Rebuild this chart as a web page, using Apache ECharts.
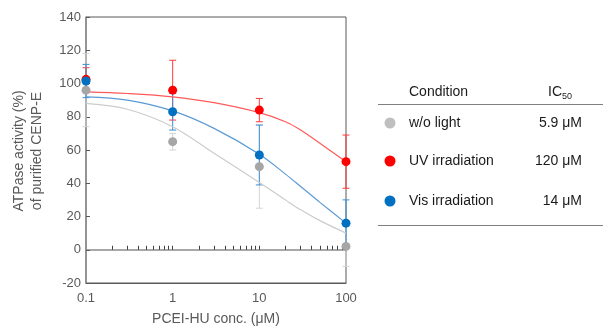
<!DOCTYPE html>
<html><head><meta charset="utf-8">
<script src="https://cdn.jsdelivr.net/npm/echarts@6/dist/echarts.min.js"></script>
<style>html,body{margin:0;padding:0;background:#fff}#c{width:604px;height:331px}</style>
</head><body><div id="c"></div><script>
// ---- data ----
const concentrations = [0.1, 1, 10, 100];
const woLightMean = [96, 65, 50, 2];
const woLightErr  = [22, 5, 25, 12];
const uvMean      = [102.5, 96, 84, 53];
const uvErr       = [7, 18, 7, 16];
const visMean     = [101.5, 83, 57, 16];
const visErr      = [10, 11, 18, 14];

const curveConc    = [0.1, 0.3, 1, 3, 10, 20, 30, 50, 100];
const woLightCurve = [88, 84.5, 74, 58, 40.5, 30, 24, 17.5, 10];
const uvCurve      = [95, 94, 92, 88.5, 82.5, 77, 72, 64, 53];
const visCurve     = [92, 90, 83.5, 73, 57.5, 45.5, 38, 28.5, 16];

const minorTickValues = [0.2,0.3,0.4,0.5,0.6,0.7,0.8,0.9,1,2,3,4,5,6,7,8,9,10,20,30,40,50,60,70,80,90];
const conditionNames = ['w/o light', 'UV irradiation', 'Vis irradiation'];
const ic50Labels = ['5.9 μM', '120 μM', '14 μM'];

// ---- style ----
const FONT = '"Liberation Sans", Arial, sans-serif';
const TXT = '#595959';
const pointColors = ['#a6a6a6', '#ff0000', '#0070c0'];
const legendDotColors = ['#bfbfbf', '#ff0000', '#0070c0'];
const curveColors = ['#cccccc', '#ff5a5a', '#5b9bd5'];
const errColors = ['#d4d4d4', '#ff3b3b', '#3d8fd6'];

function errorSeries(means, errs, color) {
  return {
    type: 'custom', xAxisIndex: 0, yAxisIndex: 0, z: 2, silent: true,
    data: concentrations.map((c, i) => [c, means[i] - errs[i], means[i] + errs[i]]),
    encode: { x: 0, y: [1, 2] },
    renderItem(params, api) {
      const lo = api.coord([api.value(0), api.value(1)]);
      const hi = api.coord([api.value(0), api.value(2)]);
      const hw = 3.5;
      const style = { stroke: color, lineWidth: 1, fill: null };
      return { type: 'group', children: [
        { type: 'line', shape: { x1: hi[0], y1: hi[1], x2: lo[0], y2: lo[1] }, style },
        { type: 'line', shape: { x1: hi[0] - hw, y1: hi[1], x2: hi[0] + hw, y2: hi[1] }, style },
        { type: 'line', shape: { x1: lo[0] - hw, y1: lo[1], x2: lo[0] + hw, y2: lo[1] }, style }
      ]};
    }
  };
}
function curveSeries(vals, color) {
  return { type: 'line', xAxisIndex: 0, yAxisIndex: 0, z: 3, silent: true,
    data: curveConc.map((c, i) => [c, vals[i]]), smooth: 0.35,
    showSymbol: false, symbol: 'none',
    lineStyle: { color, width: 1.2 } };
}
function pointSeries(vals, color) {
  return { type: 'scatter', xAxisIndex: 0, yAxisIndex: 0, z: 4, silent: true,
    data: concentrations.map((c, i) => [c, vals[i]]), symbolSize: 9,
    itemStyle: { color, opacity: 1 } };
}

const rowsY = [123, 161, 201];
const graphics = [
  { type: 'text', x: 28, y: 151, rotation: Math.PI / 2,
    style: { text: 'ATPase activity (%)\nof purified CENP-E', font: '14px ' + FONT, fill: TXT,
      align: 'center', verticalAlign: 'middle', lineHeight: 18 } },
  { type: 'line', shape: { x1: 378, y1: 104.5, x2: 603, y2: 104.5 }, style: { stroke: '#7f7f7f', lineWidth: 1 } },
  { type: 'line', shape: { x1: 378, y1: 225.5, x2: 603, y2: 225.5 }, style: { stroke: '#7f7f7f', lineWidth: 1 } },
  { type: 'text', x: 409, y: 92, style: { text: 'Condition', font: '14px ' + FONT, fill: '#1a1a1a', align: 'left', verticalAlign: 'middle' } },
  { type: 'text', x: 562, y: 92, style: { text: 'IC', font: '14px ' + FONT, fill: '#1a1a1a', align: 'right', verticalAlign: 'middle' } },
  { type: 'text', x: 562, y: 97, style: { text: '50', font: '9px ' + FONT, fill: '#1a1a1a', align: 'left', verticalAlign: 'middle' } }
];
conditionNames.forEach((n, i) => {
  graphics.push({ type: 'circle', shape: { cx: 390, cy: rowsY[i], r: 5.5 }, style: { fill: legendDotColors[i] } });
  graphics.push({ type: 'text', x: 409, y: rowsY[i], style: { text: n, font: '14px ' + FONT, fill: '#1a1a1a', align: 'left', verticalAlign: 'middle' } });
  graphics.push({ type: 'text', x: 582, y: rowsY[i], style: { text: ic50Labels[i], font: '14px ' + FONT, fill: '#1a1a1a', align: 'right', verticalAlign: 'middle' } });
});

const chart = echarts.init(document.getElementById('c'), null, { renderer: 'canvas' });
chart.setOption({
  animation: false,
  backgroundColor: '#fff',
  textStyle: { fontFamily: FONT },
  grid: { left: 86, top: 17, width: 260, height: 268, show: true, borderColor: '#595959', borderWidth: 1, backgroundColor: 'transparent' },
  xAxis: [
    { type: 'log', logBase: 10, min: 0.1, max: 100, position: 'bottom',
      axisLine: { show: true, onZero: false, lineStyle: { color: '#595959', width: 1 } },
      axisTick: { show: false }, splitLine: { show: false }, minorTick: { show: false },
      axisLabel: { color: TXT, fontSize: 13, margin: 9, fontFamily: FONT },
      name: 'PCEI-HU conc. (μM)', nameLocation: 'middle', nameGap: 29,
      nameTextStyle: { color: TXT, fontSize: 14, fontFamily: FONT } },
    { type: 'log', logBase: 10, min: 0.1, max: 100, position: 'bottom',
      axisLine: { show: true, onZero: true, onZeroAxisIndex: 0, lineStyle: { color: '#8c8c8c', width: 1.5 } },
      axisTick: { show: true, inside: true, length: 4, customValues: minorTickValues, lineStyle: { color: '#404040', width: 1 } },
      axisLabel: { show: false }, splitLine: { show: false } }
  ],
  yAxis: [{ type: 'value', min: -20, max: 140, interval: 20,
    axisLine: { show: true, onZero: false, lineStyle: { color: '#8c8c8c', width: 1.5 } },
    axisTick: { show: true, inside: true, length: 4, lineStyle: { color: '#595959' } },
    axisLabel: { color: TXT, fontSize: 13, margin: 5, fontFamily: FONT },
    splitLine: { show: false } }],
  series: [
    errorSeries(woLightMean, woLightErr, errColors[0]),
    errorSeries(uvMean, uvErr, errColors[1]),
    errorSeries(visMean, visErr, errColors[2]),
    curveSeries(woLightCurve, curveColors[0]),
    curveSeries(uvCurve, curveColors[1]),
    curveSeries(visCurve, curveColors[2]),
    pointSeries(woLightMean, pointColors[0]),
    pointSeries(uvMean, pointColors[1]),
    pointSeries(visMean, pointColors[2])
  ],
  graphic: graphics
});
</script></body></html>
